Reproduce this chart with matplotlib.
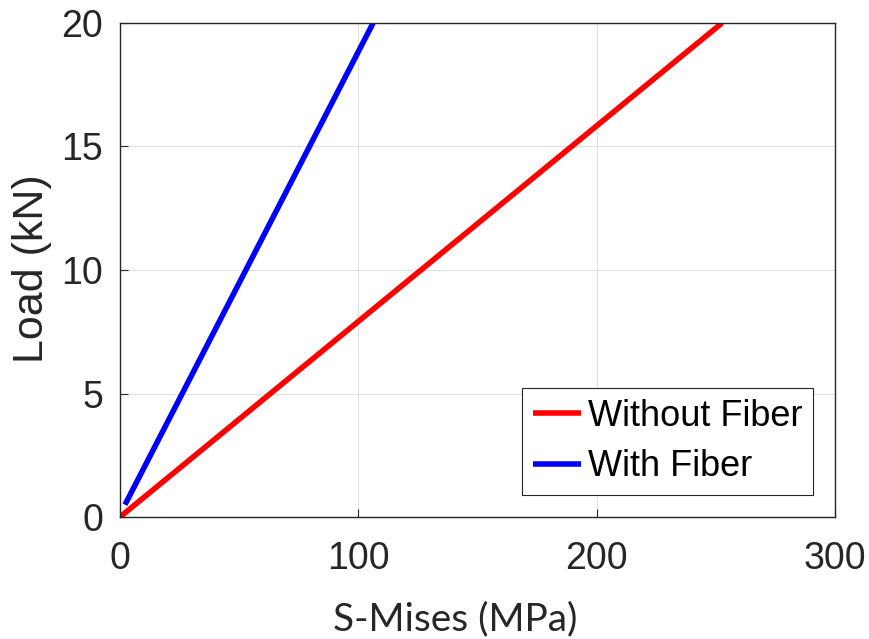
import matplotlib
matplotlib.use("Agg")
import matplotlib.pyplot as plt

# Load versus von Mises stress
without_fiber_stress = [0.0, 252.6]
without_fiber_load = [0.0, 20.0]
with_fiber_stress = [2.1, 106.2]
with_fiber_load = [0.5, 20.0]

x_ticks = [0, 100, 200, 300]
y_ticks = [0, 5, 10, 15, 20]

TXT = "#262626"
W, H = 869, 639

fig = plt.figure(figsize=(W / 100, H / 100), dpi=100)
ax = fig.add_axes([120 / W, 1 - 517 / H, 715 / W, 494 / H])

ax.plot(without_fiber_stress, without_fiber_load, color="#ff0000", lw=4,
        label="Without Fiber", solid_capstyle="butt")
ax.plot(with_fiber_stress, with_fiber_load, color="#0000ff", lw=4,
        label="With Fiber", solid_capstyle="butt")

ax.set_xlim(0, 300)
ax.set_ylim(0, 20)
ax.set_xticks(x_ticks)
ax.set_yticks(y_ticks)
ax.grid(True, color="#e0e0e0", lw=0.8)
ax.set_axisbelow(True)
ax.tick_params(direction="in", length=6, width=0.8, colors=TXT, labelsize=27)
ax.tick_params(axis="x", pad=17)
ax.tick_params(axis="y", pad=12)
for lab in ax.get_xticklabels() + ax.get_yticklabels():
    lab.set_fontfamily("Liberation Sans")
    lab.set_color(TXT)
for sp in ax.spines.values():
    sp.set_color(TXT)
    sp.set_linewidth(1.0)

# axis titles placed in figure pixels
fig.text(455.5 / W, 1 - 630 / H, "S-Mises (MPa)", fontsize=28, family="Lato",
         color=TXT, ha="center", va="baseline")
fig.text(32 / W, 1 - 268.5 / H, "Load (kN)", fontsize=31,
         family="Liberation Sans", color=TXT, rotation=90,
         ha="center", va="center")

leg = ax.legend(loc="lower right", frameon=True, fancybox=False,
                edgecolor=TXT, framealpha=1, handlelength=1.33,
                handletextpad=0.2, borderpad=0.3, labelspacing=0.43,
                borderaxespad=0.6, prop={"family": "Liberation Sans", "size": 26})
leg.get_frame().set_linewidth(0.8)

fig.savefig("out.png", dpi=100)
